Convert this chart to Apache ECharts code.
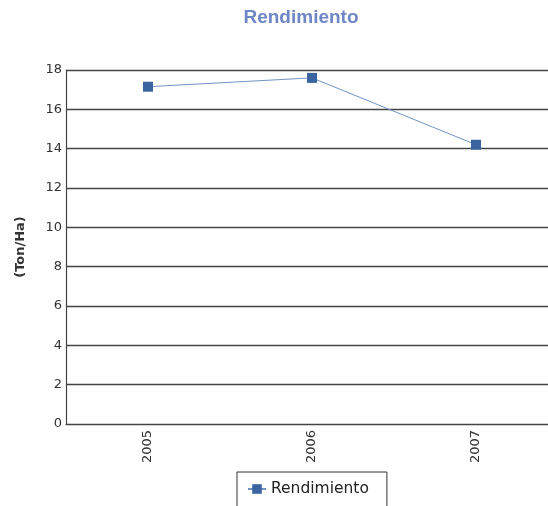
<!DOCTYPE html>
<html>
<head>
<meta charset="utf-8">
<script src="https://cdn.jsdelivr.net/npm/echarts@6/dist/echarts.min.js"></script>
<style>
  html, body { margin: 0; padding: 0; background: #ffffff; }
  #chart { width: 548px; height: 506px; }
</style>
</head>
<body>
<div id="chart"></div>
<script>
// Yield per year (tons per hectare)
const years = ['2005', '2006', '2007'];
const rendimiento = [17.15, 17.6, 14.2];
const yTicks = { min: 0, max: 18, step: 2 };

const chart = echarts.init(document.getElementById('chart'));
chart.setOption({
  backgroundColor: '#ffffff',
  animation: false,
  title: {
    text: 'Rendimiento',
    left: 296,
    textAlign: 'center',
    top: 3,
    textStyle: {
      fontFamily: 'Liberation Sans, Arial, sans-serif',
      fontSize: 19,
      fontWeight: 'bold',
      color: '#6f86c6'
    }
  },
  legend: {
    left: 237,
    top: 472,
    padding: [9, 18, 24, 10],
    borderColor: '#333333',
    borderWidth: 1,
    itemWidth: 18,
    itemHeight: 12,
    itemGap: 6,
    textStyle: {
      fontFamily: 'DejaVu Sans, sans-serif',
      fontSize: 15.5,
      color: '#222222'
    },
    data: ['Rendimiento']
  },
  grid: {
    left: 66,
    width: 492,
    top: 70,
    bottom: 82,
    containLabel: false,
    outerBoundsMode: 'none'
  },
  xAxis: {
    type: 'category',
    data: years,
    boundaryGap: true,
    axisLine: { show: true, lineStyle: { color: '#444444', width: 1.2 } },
    axisTick: { show: false },
    axisLabel: {
      rotate: 90,
      margin: 6,
      fontFamily: 'DejaVu Sans, sans-serif',
      fontSize: 13,
      color: '#333333'
    },
    splitLine: { show: false }
  },
  yAxis: {
    type: 'value',
    min: yTicks.min,
    max: yTicks.max,
    interval: yTicks.step,
    name: '(Ton/Ha)',
    nameLocation: 'middle',
    nameGap: 39,
    nameTextStyle: {
      fontFamily: 'DejaVu Sans, sans-serif',
      fontSize: 13,
      fontWeight: 'bold',
      color: '#333333'
    },
    axisLine: { show: true, lineStyle: { color: '#444444', width: 1.2 } },
    axisTick: { show: false },
    axisLabel: {
      margin: 4,
      fontFamily: 'DejaVu Sans, sans-serif',
      fontSize: 13,
      color: '#333333'
    },
    splitLine: { show: true, lineStyle: { color: '#444444', width: 1.4 } }
  },
  series: [{
    name: 'Rendimiento',
    type: 'line',
    data: rendimiento,
    symbol: 'rect',
    symbolSize: 10,
    itemStyle: { color: '#3a64a0' },
    lineStyle: { color: '#7293c4', width: 1 }
  }]
});
</script>
</body>
</html>
